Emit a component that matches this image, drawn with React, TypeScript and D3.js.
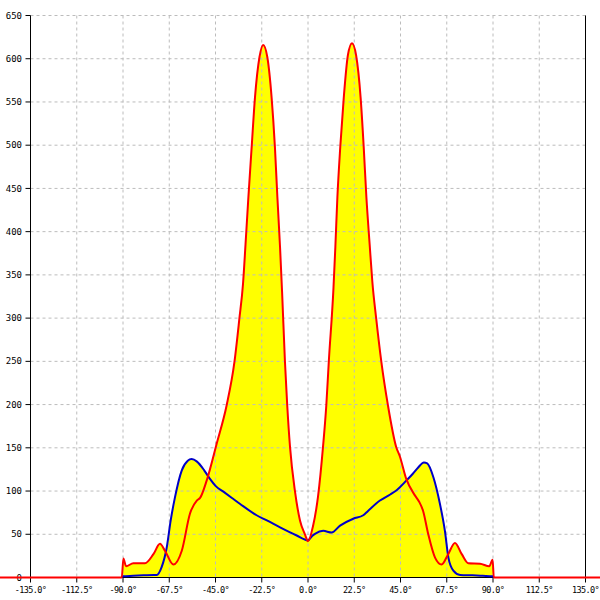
import React from "react";
import * as d3 from "d3";

const redAngles = [-180, -90.6, -89.8, -88.5, -85, -79.3, -75.2, -72, -69.6, -65.5, -61.4, -57.4, -54.1, -52.5, -49.3, -44.4, -39.6, -35.8, -33.4, -31.6, -30.4, -29, -27.4, -25.8, -23.6, -21.8, -19.8, -17.7, -16.1, -14.9, -13.6, -12.6, -11.2, -10.1, -8.75, -6.3, -3.9, -1.5, 0, 2.4, 4.9, 7.3, 8.9, 10.1, 12.4, 13.3, 14.3, 15.7, 17.4, 19.4, 21.4, 23.4, 25.6, 27.1, 28.4, 30, 31.3, 33.2, 35.7, 38.9, 42.9, 44.7, 47.8, 52, 54, 56, 58.5, 61.8, 65, 68.2, 71.5, 74.8, 78, 83.7, 88.2, 89.8, 90.4, 180];
const redValues = [0, 0, 22, 13, 16.5, 16.5, 27, 39, 31, 15, 31, 74, 89, 92, 112, 155, 199, 249, 299, 340, 385, 440, 498, 555, 602, 616, 602, 555, 498, 440, 382, 330, 249, 199, 151, 99, 66, 50, 42, 59, 94, 151, 199, 249, 335, 382, 440, 498, 555, 604, 618, 604, 555, 498, 440, 385, 342, 299, 249, 199, 151, 140, 114, 95, 88, 77, 50, 23, 15, 27, 40, 27, 16.5, 16, 13, 20.5, 0, 0];

const blueAngles = [-90.5, -90, -85, -80, -75, -73.6, -71.2, -68.7, -66.8, -64.7, -61.4, -58.5, -56.6, -54, -50.5, -47.7, -45, -41, -37, -33, -25, -20, -13.6, -5.5, 0, 2, 3.4, 7.4, 11.5, 15.6, 22, 26.9, 29.2, 35, 40, 43.1, 47.8, 51, 53.5, 56.4, 58, 61, 64.2, 66.6, 68.3, 70.7, 74, 80, 85, 89.8, 90.3];
const blueValues = [0, 1.5, 2, 2.5, 3, 3, 12, 35, 66, 93, 124, 135, 137, 134, 124, 114, 106, 99, 92, 85, 72, 66, 58, 48.6, 43, 48, 50.5, 54, 52, 60, 68, 72, 77, 89, 96, 101, 112, 120, 127, 133, 132, 116, 85, 54, 23, 8, 3, 2.5, 2, 1.5, 0];

const xTicks = [-135, -112.5, -90, -67.5, -45, -22.5, 0, 22.5, 45, 67.5, 90, 112.5, 135];
const yTicks = [0, 50, 100, 150, 200, 250, 300, 350, 400, 450, 500, 550, 600, 650];

export default function App() {
  const W = 600, H = 600;
  const x = d3.scaleLinear().domain([-135, 135]).range([30.5, 585.5]);
  const y = d3.scaleLinear().domain([0, 650]).range([577.5, 15.5]);
  const red = redAngles.map((a, i) => [a, redValues[i]] as [number, number]);
  const blue = blueAngles.map((a, i) => [a, blueValues[i]] as [number, number]);
  const line = d3.line<[number, number]>().x(d => x(d[0])).y(d => y(d[1])).curve(d3.curveMonotoneX);
  const area = d3.area<[number, number]>().x(d => x(d[0])).y0(y(0)).y1(d => y(d[1])).curve(d3.curveMonotoneX);
  const font = "'DejaVu Sans Mono', monospace";
  return (
    <svg width={W} height={H} style={{ position: "absolute", left: 0, top: 0, background: "#fff" }}>
      <defs>
        <clipPath id="clip"><rect x={0} y={0} width={W} height={H} /></clipPath>
      </defs>
      <path d={area(red) || ""} fill="#ffff00" stroke="none" />
      <path d={area(blue) || ""} fill="#ffff00" stroke="none" />
      {xTicks.slice(1).map(t => (
        <line key={"gx" + t} x1={x(t)} x2={x(t)} y1={y(650)} y2={y(0)} stroke="#bcbcbc" strokeDasharray="3,3" strokeWidth={1} />
      ))}
      {yTicks.slice(1).map(t => (
        <line key={"gy" + t} x1={x(-135)} x2={x(135)} y1={y(t)} y2={y(t)} stroke="#bcbcbc" strokeDasharray="3,3" strokeWidth={1} />
      ))}
      <line x1={x(-135)} x2={x(-135)} y1={y(650)} y2={y(0)} stroke="#000" strokeWidth={1} />
      <line x1={x(135)} x2={x(135)} y1={y(650)} y2={y(0)} stroke="#000" strokeWidth={1} />
      <line x1={x(-135)} x2={x(135)} y1={y(0)} y2={y(0)} stroke="#000" strokeWidth={1} />
      {yTicks.map(t => (
        <g key={"ty" + t}>
          <line x1={x(-135) - 5} x2={x(-135)} y1={y(t)} y2={y(t)} stroke="#000" />
          <text x={22} y={y(t)} dy="0.35em" textAnchor="end" fontFamily={font} fontSize={9} fill="#000">{t}</text>
        </g>
      ))}
      {xTicks.map(t => (
        <g key={"tx" + t}>
          <line x1={x(t)} x2={x(t)} y1={y(0)} y2={y(0) + 5} stroke="#000" />
          <text x={x(t)} y={593} textAnchor="middle" fontFamily={font} fontSize={8.5} letterSpacing={-0.6} fill="#000">{t.toFixed(1) + "°"}</text>
        </g>
      ))}
      <g clipPath="url(#clip)">
        <path d={line(blue) || ""} fill="none" stroke="#0000c8" strokeWidth={2} />
        <path d={line(red) || ""} fill="none" stroke="#ff0000" strokeWidth={2} />
      </g>
    </svg>
  );
}
